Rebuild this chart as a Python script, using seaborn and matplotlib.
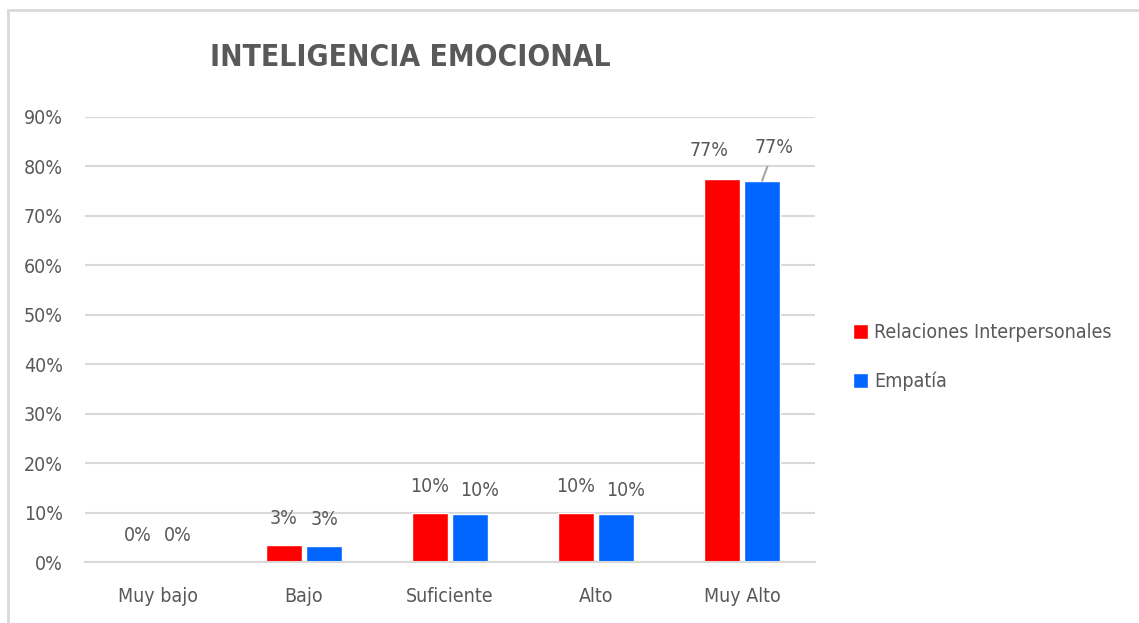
import pandas as pd
import matplotlib.pyplot as plt
import seaborn as sns
from matplotlib.patches import Rectangle

# chart data
categorias = ['Muy bajo', 'Bajo', 'Suficiente', 'Alto', 'Muy Alto']
relaciones = [0.0, 0.034, 0.100, 0.100, 0.774]
empatia = [0.0, 0.032, 0.097, 0.097, 0.771]
series = ['Relaciones Interpersonales', 'Empatía']
yticks = [0, 0.1, 0.2, 0.3, 0.4, 0.5, 0.6, 0.7, 0.8, 0.9]

df = pd.DataFrame({
    'categoria': categorias * 2,
    'valor': relaciones + empatia,
    'serie': [series[0]] * 5 + [series[1]] * 5,
})

sns.set_theme(style='white')
plt.rcParams['font.family'] = ['DejaVu Sans']
plt.rcParams['font.stretch'] = 'condensed'
GRAY = '#595959'

fig = plt.figure(figsize=(11.39, 6.23), dpi=100)
ax = fig.add_axes([85 / 1139, 1 - 562 / 623, 730 / 1139, 445 / 623])

sns.barplot(data=df, x='categoria', y='valor', hue='serie', order=categorias,
            hue_order=series, palette=['#FF0000', '#0066FF'],
            width=0.55, gap=0.12, saturation=1, ax=ax, legend=True)

ax.set_xlim(-0.5, 4.5)
ax.set_ylim(0, 0.9)
ax.set_yticks(yticks)
ax.set_yticklabels([f'{int(round(v * 100))}%' for v in yticks])
ax.grid(axis='y', color='#d9d9d9', lw=1.5)
ax.set_axisbelow(True)
for s in ['top', 'right', 'left']:
    ax.spines[s].set_visible(False)
ax.spines['bottom'].set_color('#d9d9d9')
ax.spines['bottom'].set_linewidth(1.5)
ax.set_xlabel('')
ax.set_ylabel('')
ax.tick_params(axis='both', labelsize=14, colors=GRAY, length=0)
ax.tick_params(axis='y', pad=16)
ax.set_xticks([i - 0.5 for i in range(6)], minor=True)
ax.tick_params(axis='x', which='minor', length=7, width=1.2, color='#d9d9d9')
ax.tick_params(axis='x', which='major', pad=18)

# data labels
for k, cont in enumerate(ax.containers):
    for j, bar in enumerate(cont):
        h = bar.get_height()
        x = bar.get_x() + bar.get_width() / 2
        txt = f'{int(round(h * 100))}%'
        if j == 4 and k == 1:
            ax.annotate(txt, xy=(x, h), xytext=(9, 24), textcoords='offset points',
                        ha='center', va='center', fontsize=14, color=GRAY,
                        arrowprops=dict(arrowstyle='-', color='#a6a6a6', lw=1.5,
                                        shrinkA=5, shrinkB=0))
        elif j == 4:
            ax.annotate(txt, xy=(x, h), xytext=(-9, 21), textcoords='offset points',
                        ha='center', va='center', fontsize=14, color=GRAY)
        else:
            dx = 7 if (k == 1 and j in (2, 3)) else 0
            dy = 17 if (k == 1 and j in (2, 3)) else 19
            ax.annotate(txt, xy=(x, h), xytext=(dx, dy),
                        textcoords='offset points', ha='center', va='center',
                        fontsize=14, color=GRAY)

leg = ax.legend(loc='center left', bbox_to_anchor=(843 / 1139, 1 - 357 / 623),
                bbox_transform=fig.transFigure, frameon=False, fontsize=14,
                handlelength=0.8, handleheight=0.8, handletextpad=0.3,
                labelspacing=1.5, borderpad=0)
for t in leg.get_texts():
    t.set_color(GRAY)

fig.text(210 / 1139, 1 - 58 / 623, 'INTELIGENCIA EMOCIONAL', fontsize=21.5,
         fontweight='bold', color=GRAY, ha='left', va='center')

# chart border
fig.patches.append(Rectangle((8 / 1139, -0.1), 1.2, 1 - 10 / 623 + 0.1,
                             transform=fig.transFigure, fill=False,
                             edgecolor='#d9d9d9', lw=2))

fig.savefig('out.png', dpi=100, facecolor='white')
